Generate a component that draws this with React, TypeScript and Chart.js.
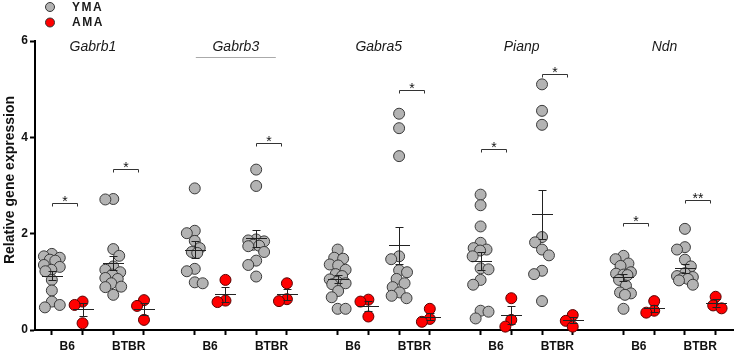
import React, { useEffect, useRef } from "react";
import { Chart, registerables } from "chart.js";
Chart.register(...registerables);

// ---------- DATA ----------
const genes = ["Gabrb1", "Gabrb3", "Gabra5", "Pianp", "Ndn"];
const strains = ["B6", "BTBR"];
const ageGroups = ["YMA", "AMA"];
const yTicks = [0, 2, 4, 6];

const gabrb1B6YMA = [1.58, 1.53, 1.5, 1.46, 1.44, 1.35, 1.31, 1.25, 1.22, 1.04, 0.82, 0.59, 0.52, 0.47];
const gabrb1B6AMA = [0.59, 0.52, 0.14];
const gabrb1BTBRYMA = [2.72, 2.71, 1.68, 1.54, 1.32, 1.25, 1.2, 1.15, 1.08, 1.06, 0.97, 0.9, 0.89, 0.73];
const gabrb1BTBRAMA = [0.62, 0.5, 0.21];
const gabrb3B6YMA = [2.94, 2.06, 2.01, 1.85, 1.7, 1.62, 1.6, 1.27, 1.22, 0.99, 0.97];
const gabrb3B6AMA = [1.04, 0.61, 0.58];
const gabrb3BTBRYMA = [3.33, 2.99, 1.88, 1.86, 1.84, 1.77, 1.75, 1.74, 1.62, 1.44, 1.35, 1.11];
const gabrb3BTBRAMA = [0.97, 0.64, 0.6];
const gabra5B6YMA = [1.67, 1.5, 1.48, 1.36, 1.34, 1.25, 1.16, 1.12, 1.05, 1.0, 0.97, 0.95, 0.81, 0.68, 0.44, 0.44];
const gabra5B6AMA = [0.63, 0.59, 0.28];
const gabra5BTBRYMA = [4.49, 4.19, 3.61, 1.53, 1.47, 1.24, 1.2, 1.06, 0.97, 0.89, 0.78, 0.71, 0.66];
const gabra5BTBRAMA = [0.44, 0.23, 0.17];
const pianpB6YMA = [2.81, 2.59, 2.15, 1.81, 1.7, 1.67, 1.65, 1.53, 1.28, 1.26, 1.04, 0.94, 0.4, 0.38, 0.24];
const pianpB6AMA = [0.66, 0.21, 0.07];
const pianpBTBRYMA = [5.1, 4.55, 4.26, 1.93, 1.82, 1.67, 1.55, 1.23, 1.16, 0.6];
const pianpBTBRAMA = [0.31, 0.19, 0.07];
const ndnB6YMA = [1.54, 1.47, 1.38, 1.33, 1.2, 1.17, 1.15, 1.14, 1.04, 0.92, 0.78, 0.76, 0.73, 0.44];
const ndnB6AMA = [0.6, 0.4, 0.36];
const ndnBTBRYMA = [2.1, 1.72, 1.67, 1.46, 1.32, 1.18, 1.12, 1.1, 1.08, 1.06, 1.03, 0.94];
const ndnBTBRAMA = [0.69, 0.51, 0.45];

// mean and SEM per gene
const meanB6YMA = [1.125, 1.67, 1.06, 1.43, 1.09];
const semB6YMA = [0.09, 0.17, 0.08, 0.18, 0.08];
const meanB6AMA = [0.43, 0.74, 0.5, 0.31, 0.45];
const semB6AMA = [0.14, 0.15, 0.1, 0.19, 0.07];
const meanBTBRYMA = [1.39, 1.9, 1.76, 2.4, 1.28];
const semBTBRYMA = [0.15, 0.17, 0.38, 0.51, 0.1];
const meanBTBRAMA = [0.44, 0.74, 0.28, 0.21, 0.56];
const semBTBRAMA = [0.12, 0.11, 0.08, 0.07, 0.08];

// significance: gene index, strain index, height, label
const sigGene = [0, 0, 1, 2, 3, 3, 4, 4];
const sigStrain = [0, 1, 1, 1, 0, 1, 0, 1];
const sigHeight = [2.64, 3.35, 3.875, 4.98, 3.75, 5.31, 2.22, 2.69];
const sigLabel = ["*", "*", "*", "*", "*", "*", "*", "**"];

// ---------- LAYOUT CONSTANTS ----------
const W = 740;
const H = 356;
const GENE_STEP = 4.653;
const PX_X = 31;
const PX_Y = 48;
const DIAM = 9;
const MAX_OFF = 8;
const FONT = "'Liberation Sans', Arial, sans-serif";

const values: number[][][][] = [
  [[gabrb1B6YMA, gabrb1B6AMA], [gabrb1BTBRYMA, gabrb1BTBRAMA]],
  [[gabrb3B6YMA, gabrb3B6AMA], [gabrb3BTBRYMA, gabrb3BTBRAMA]],
  [[gabra5B6YMA, gabra5B6AMA], [gabra5BTBRYMA, gabra5BTBRAMA]],
  [[pianpB6YMA, pianpB6AMA], [pianpBTBRYMA, pianpBTBRAMA]],
  [[ndnB6YMA, ndnB6AMA], [ndnBTBRYMA, ndnBTBRAMA]],
];
const means = [
  [meanB6YMA, meanB6AMA],
  [meanBTBRYMA, meanBTBRAMA],
];
const sems = [
  [semB6YMA, semB6AMA],
  [semBTBRYMA, semBTBRAMA],
];

function posOf(g: number, s: number, a: number) {
  return g * GENE_STEP + s * 2 + a;
}

// limited-width beeswarm (offsets in x units), alternating sides
function swarm(vals: number[]): number[] {
  const order = vals.map((_, i) => i).sort((a, b) => vals[b] - vals[a]);
  const placed: { x: number; y: number }[] = [];
  const offs = new Array(vals.length).fill(0);
  let side = -1;
  for (const i of order) {
    const y = vals[i] * PX_Y;
    const cands: number[] = [];
    for (let c = 0; c <= MAX_OFF; c += 0.5) {
      cands.push(c * side);
      if (c > 0) cands.push(-c * side);
    }
    let best = 0;
    let bestScore = -1;
    for (const c of cands) {
      let md = DIAM;
      for (const p of placed) {
        const d = Math.sqrt((p.x - c) ** 2 + (p.y - y) ** 2);
        if (d < md) md = d;
      }
      if (md > bestScore + 0.25) {
        bestScore = md;
        best = c;
      }
      if (md >= DIAM) break;
    }
    if (best !== 0) side = best > 0 ? -1 : 1;
    placed.push({ x: best, y });
    offs[i] = best / PX_X;
  }
  return offs;
}

function buildPoints(a: number) {
  const pts: { x: number; y: number }[] = [];
  genes.forEach((_, g) => {
    strains.forEach((__, s) => {
      const vals = values[g][s][a];
      const offs = swarm(vals);
      vals.forEach((v, i) => pts.push({ x: posOf(g, s, a) + offs[i], y: v }));
    });
  });
  return pts;
}

// x ticks: one mark per group, one label per strain
const xTickVals: number[] = [];
const xTickLabels: string[] = [];
const xTickIsLabel: boolean[] = [];
genes.forEach((_, g) => {
  strains.forEach((st, s) => {
    xTickVals.push(posOf(g, s, 0));
    xTickLabels.push("");
    xTickIsLabel.push(false);
    xTickVals.push(posOf(g, s, 0) + 0.5);
    xTickLabels.push(st);
    xTickIsLabel.push(true);
    xTickVals.push(posOf(g, s, 1));
    xTickLabels.push("");
    xTickIsLabel.push(false);
  });
});

const annotations = {
  id: "annotations",
  afterDatasetsDraw(chart: any) {
    const ctx = chart.ctx as CanvasRenderingContext2D;
    const xs = chart.scales.x;
    const ys = chart.scales.y;
    ctx.save();
    // mean +- SEM
    ctx.strokeStyle = "#222";
    ctx.lineWidth = 1;
    genes.forEach((_, g) => {
      strains.forEach((__, s) => {
        ageGroups.forEach((___, a) => {
          const cx = Math.round(xs.getPixelForValue(posOf(g, s, a))) + 0.5;
          const m = means[s][a][g];
          const e = sems[s][a][g];
          const ym = Math.round(ys.getPixelForValue(m)) + 0.5;
          const yt = Math.round(ys.getPixelForValue(m + e)) + 0.5;
          const yb = Math.round(ys.getPixelForValue(m - e)) + 0.5;
          ctx.beginPath();
          ctx.moveTo(cx - 10.5, ym);
          ctx.lineTo(cx + 10.5, ym);
          ctx.moveTo(cx, yt);
          ctx.lineTo(cx, yb);
          ctx.moveTo(cx - 4, yt);
          ctx.lineTo(cx + 4, yt);
          ctx.moveTo(cx - 4, yb);
          ctx.lineTo(cx + 4, yb);
          ctx.stroke();
        });
      });
    });
    // significance brackets
    ctx.strokeStyle = "#333";
    ctx.fillStyle = "#111";
    ctx.font = `14px ${FONT}`;
    ctx.textAlign = "center";
    ctx.textBaseline = "alphabetic";
    sigGene.forEach((g, i) => {
      const s = sigStrain[i];
      const x1 = Math.round(xs.getPixelForValue(posOf(g, s, 0))) + 0.5;
      const x2 = x1 + 25;
      const y = Math.round(ys.getPixelForValue(sigHeight[i])) + 0.5;
      ctx.beginPath();
      ctx.moveTo(x1, y + 3);
      ctx.lineTo(x1, y);
      ctx.lineTo(x2, y);
      ctx.lineTo(x2, y + 3);
      ctx.stroke();
      ctx.fillText(sigLabel[i], (x1 + x2) / 2, y + 2);
    });
    // gene names
    ctx.font = `italic 14px ${FONT}`;
    ctx.fillStyle = "#1a1a1a";
    ctx.textBaseline = "middle";
    genes.forEach((name, g) => {
      const cx = xs.getPixelForValue(g * GENE_STEP + 1.5) - 5;
      ctx.fillText(name, cx, 47);
      if (g === 1) {
        ctx.strokeStyle = "#aaaaaa";
        ctx.beginPath();
        ctx.moveTo(cx - 40, 57.5);
        ctx.lineTo(cx + 40, 57.5);
        ctx.stroke();
      }
    });
    // legend
    const legendColors = ["#b3b3b3", "#ff0000"];
    ageGroups.forEach((name, a) => {
      const ly = 7 + a * 15.5;
      ctx.beginPath();
      ctx.arc(50, ly, 4.5, 0, Math.PI * 2);
      ctx.fillStyle = legendColors[a];
      ctx.fill();
      ctx.strokeStyle = "#333";
      ctx.stroke();
      ctx.fillStyle = "#1a1a1a";
      ctx.font = `bold 12px ${FONT}`;
      (ctx as any).letterSpacing = "1.5px";
      ctx.textAlign = "left";
      ctx.fillText(name, 72, ly + 0.5);
      (ctx as any).letterSpacing = "0px";
    });
    // y title
    ctx.translate(10, 180);
    ctx.rotate(-Math.PI / 2);
    ctx.font = `bold 14px ${FONT}`;
    ctx.textAlign = "center";
    ctx.textBaseline = "middle";
    ctx.fillStyle = "#111";
    ctx.fillText("Relative gene expression", 0, 0);
    ctx.restore();
  },
};

export default function App() {
  const ref = useRef<HTMLCanvasElement>(null);
  useEffect(() => {
    if (!ref.current) return;
    const left = 35;
    const zeroPx = 52;
    const xMin = -(zeroPx - left) / PX_X;
    const xMax = xMin + (W - left) / PX_X;
    const chart = new Chart(ref.current, {
      type: "scatter",
      data: {
        datasets: [
          {
            label: ageGroups[0],
            data: buildPoints(0),
            backgroundColor: "#b3b3b3",
            borderColor: "#3a3a3a",
            borderWidth: 1,
            pointRadius: 5.5,
            clip: false as any,
          },
          {
            label: ageGroups[1],
            data: buildPoints(1),
            backgroundColor: "#ff0000",
            borderColor: "#5a0000",
            borderWidth: 1,
            pointRadius: 5.5,
            clip: false as any,
          },
        ],
      },
      options: {
        responsive: false,
        animation: false,
        devicePixelRatio: 1,
        layout: { padding: { top: 41, left: 0, right: 0, bottom: 0 } },
        plugins: { legend: { display: false }, tooltip: { enabled: false } },
        scales: {
          x: {
            type: "linear",
            min: xMin,
            max: xMax,
            afterFit(scale: any) {
              scale.height = H - 330;
            },
            afterBuildTicks(scale: any) {
              scale.ticks = xTickVals.map((v) => ({ value: v }));
            },
            border: { display: true, color: "#000", width: 2 },
            grid: {
              drawOnChartArea: false,
              drawTicks: true,
              tickLength: 5,
              tickWidth: 2,
              tickColor: (c: any) => (xTickIsLabel[c.index] ? "rgba(0,0,0,0)" : "#000"),
            },
            ticks: {
              autoSkip: false,
              maxRotation: 0,
              padding: 4,
              color: "#111",
              font: { family: FONT, size: 12, weight: "bold" },
              callback: (_v: any, i: number) => xTickLabels[i],
            },
          },
          y: {
            min: 0,
            max: 6,
            afterFit(scale: any) {
              scale.width = left;
            },
            afterBuildTicks(scale: any) {
              scale.ticks = yTicks.map((v) => ({ value: v }));
            },
            border: { display: true, color: "#000", width: 2 },
            grid: {
              drawOnChartArea: false,
              drawTicks: true,
              tickLength: 5,
              tickWidth: 2,
              tickColor: "#000",
            },
            ticks: {
              padding: 2,
              color: "#111",
              font: { family: FONT, size: 12, weight: "bold" },
            },
          },
        },
      },
      plugins: [annotations],
    });
    return () => chart.destroy();
  }, []);
  return (
    <div style={{ position: "fixed", left: 0, top: 0, width: W, height: H, background: "#fff" }}>
      <canvas ref={ref} width={W} height={H} style={{ width: W, height: H }} />
    </div>
  );
}
